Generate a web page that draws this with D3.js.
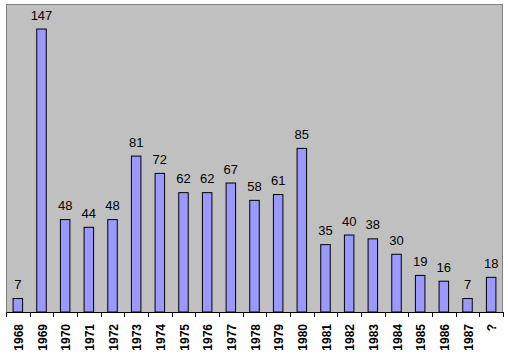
<!DOCTYPE html>
<html><head><meta charset="utf-8">
<script src="https://cdn.jsdelivr.net/npm/d3@7"></script>
<style>body{margin:0;background:#fff}svg{display:block}</style>
</head><body>
<script>
const categories = ["1968","1969","1970","1971","1972","1973","1974","1975","1976","1977","1978","1979","1980","1981","1982","1983","1984","1985","1986","1987","?"];
const values = [7,147,48,44,48,81,72,62,62,67,58,61,85,35,40,38,30,19,16,7,18];
const yMax = 160;

(function(){
const W = 508, H = 361;
const pl = 6, pr = 503, pt = 4, pb = 312;
const svg = d3.select("body").append("svg").attr("width", W).attr("height", H);

const x = d3.scaleBand().domain(categories).range([pl, pr]).paddingInner(0).paddingOuter(0);
const y = d3.scaleLinear().domain([0, yMax]).range([pb, pt]);

svg.append("rect").attr("x", pl + 0.5).attr("y", pt + 0.5).attr("width", pr - pl - 1).attr("height", pb - pt)
  .attr("fill", "#c0c0c0").attr("stroke", "#808080").attr("stroke-width", 1);

const bw = 9.5;
svg.selectAll("rect.bar").data(values).join("rect").attr("class","bar")
  .attr("x", (d,i) => x(categories[i]) + x.bandwidth()/2 - bw/2)
  .attr("y", d => y(d))
  .attr("width", bw)
  .attr("height", d => pb - y(d))
  .attr("fill", "#9999ff").attr("stroke", "#000").attr("stroke-width", 1);

svg.selectAll("text.val").data(values).join("text").attr("class","val")
  .attr("x", (d,i) => x(categories[i]) + x.bandwidth()/2)
  .attr("y", d => y(d) - 9.5)
  .attr("text-anchor","middle")
  .attr("font-family","Arial, 'Liberation Sans', sans-serif").attr("font-size", 13)
  .attr("fill","#000")
  .text(d => d);

const ax = svg.append("g");
ax.append("line").attr("x1", pl).attr("x2", pr).attr("y1", pb + 0.5).attr("y2", pb + 0.5).attr("stroke","#000");
const edges = categories.map(c => x(c)).concat([pr]);
ax.selectAll("line.tick").data(edges).join("line").attr("class","tick")
  .attr("x1", d => Math.round(d) + 0.5).attr("x2", d => Math.round(d) + 0.5)
  .attr("y1", pb).attr("y2", pb + 5).attr("stroke","#000");
ax.selectAll("text.lab").data(categories).join("text").attr("class","lab")
  .attr("transform", c => `translate(${x(c) + x.bandwidth()/2 + 5},${pb + 12}) rotate(-90)`)
  .attr("text-anchor","end")
  .attr("font-family","Arial, 'Liberation Sans', sans-serif").attr("font-size", 12).attr("font-weight","bold")
  .attr("fill","#000")
  .text(c => c);
})();
</script>
</body></html>
